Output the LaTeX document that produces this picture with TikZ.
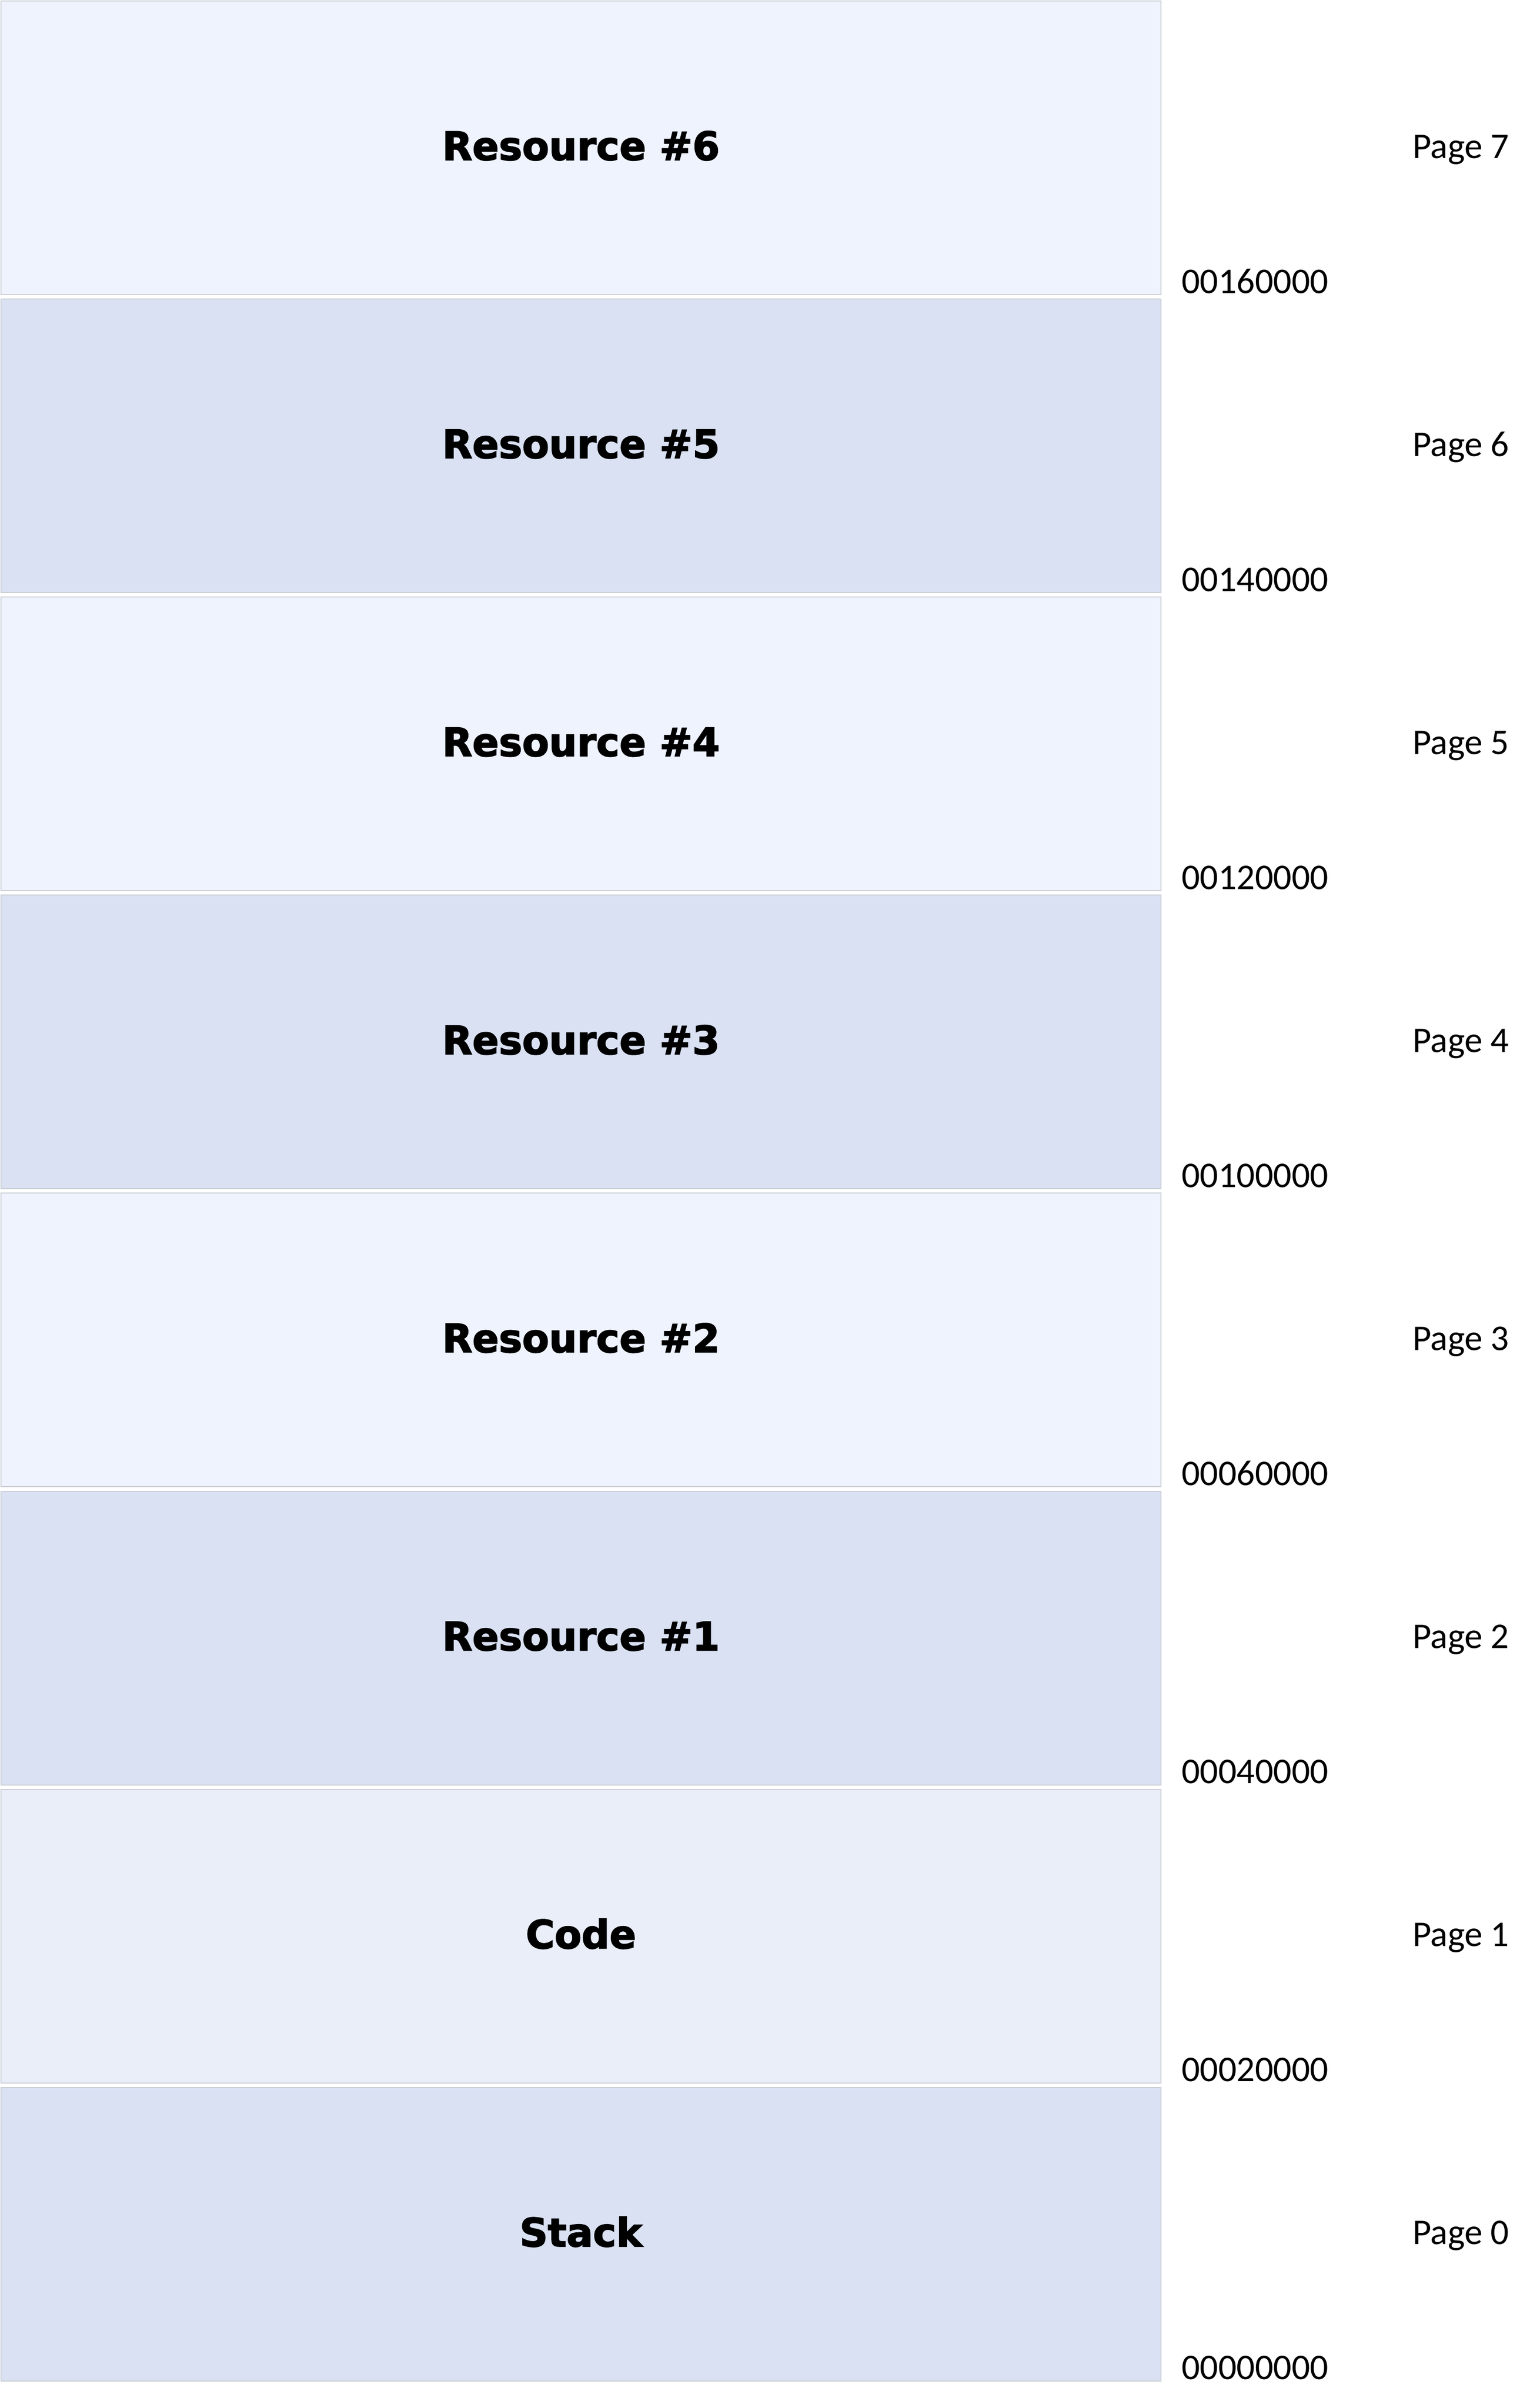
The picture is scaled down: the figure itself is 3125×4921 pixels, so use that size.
\documentclass[tikz,border=0pt]{standalone}
\usepackage{fontspec}
\setmainfont{Carlito}
\newfontfamily\blackfont[FakeBold=2.5]{DejaVu Sans Bold}
\definecolor{lightfill}{HTML}{EEF3FE}
\definecolor{darkfill}{HTML}{D9E1F3}
\definecolor{codefill}{HTML}{E9EEF9}
\definecolor{boxline}{HTML}{C9CDD3}
\tikzset{
  membox/.style={draw=boxline, line width=0.4pt, minimum width=474pt, minimum height=120pt,
    inner sep=0pt, font=\blackfont\fontsize{16pt}{19pt}\selectfont,
    text height=11.8pt, text depth=1.8pt},
  addrlabel/.style={anchor=base west, inner sep=0pt, font=\fontsize{14.8pt}{17pt}\selectfont},
  pagelabel/.style={anchor=base west, inner sep=0pt, font=\fontsize{14.8pt}{17pt}\selectfont}
}
\begin{document}
\begin{tikzpicture}[x=0.2pt,y=-0.2pt]
\useasboundingbox[fill=white] (0,0) rectangle (3125,4921);
\foreach \i/\lab/\fc/\addr/\pg in {
  0/Resource \#6/lightfill/00160000/7,
  1/Resource \#5/darkfill/00140000/6,
  2/Resource \#4/lightfill/00120000/5,
  3/Resource \#3/darkfill/00100000/4,
  4/Resource \#2/lightfill/00060000/3,
  5/Resource \#1/darkfill/00040000/2,
  6/Code/codefill/00020000/1,
  7/Stack/darkfill/00000000/0}{
  \pgfmathsetmacro{\cy}{302+609.1*\i}
  \node[membox, fill=\fc] (box\i) at (1187,\cy) {\lab};
  \node[addrlabel] (addr\i) at (2413,\cy+297) {\addr};
  \node[pagelabel] (page\i) at (2885,\cy+21) {Page \pg};
}
\end{tikzpicture}
\end{document}
